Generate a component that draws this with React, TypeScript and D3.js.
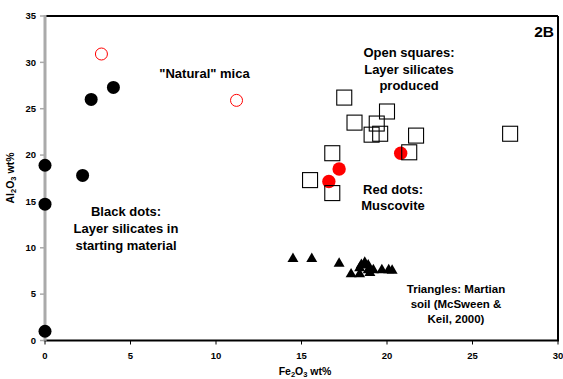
import React from "react";
import * as d3 from "d3";

// ---- data ----
const blackDotsX = [0, 0, 0, 2.2, 2.7, 4.0];
const blackDotsY = [18.9, 14.7, 1.0, 17.8, 26.0, 27.3];

const naturalMicaX = [3.3, 11.2];
const naturalMicaY = [30.9, 25.9];

const muscoviteX = [20.8, 17.2, 16.6];
const muscoviteY = [20.2, 18.5, 17.15];

const squaresX = [17.5, 18.1, 20.0, 19.4, 19.1, 19.6, 21.7, 21.3, 16.8, 15.5, 16.8, 27.2];
const squaresY = [26.2, 23.5, 24.7, 23.4, 22.2, 22.3, 22.1, 20.3, 20.2, 17.3, 15.9, 22.3];

const triX = [14.5, 15.6, 17.2, 17.9, 18.4, 18.5, 18.7, 18.9, 19.0, 19.2, 19.7, 20.1, 20.3, 18.4, 18.9];
const triY = [8.8, 8.8, 8.3, 7.15, 7.15, 8.15, 8.4, 8.1, 7.3, 7.6, 7.6, 7.6, 7.55, 7.8, 7.6];

const xTicks = [0, 5, 10, 15, 20, 25, 30];
const yTicks = [0, 5, 10, 15, 20, 25, 30, 35];

const FONT = "'Liberation Sans', Arial, Helvetica, sans-serif";

export default function App() {
  const W = 563, H = 379;
  const left = 45, right = 558, top = 16, bottom = 340.5;
  const x = d3.scaleLinear().domain([0, 30]).range([left, right]);
  const y = d3.scaleLinear().domain([0, 35]).range([bottom, top]);
  const tri = d3.symbol().type(d3.symbolTriangle).size(52)();

  return (
    <svg width={W} height={H} style={{ position: "absolute", left: 0, top: 0, background: "#fff" }} fontFamily={FONT}>
      <rect x={0} y={0} width={W} height={H} fill="#fff" />
      {/* frame */}
      <line x1={left} x2={right} y1={top} y2={top} stroke="#000" strokeWidth={2} />
      <line x1={right} x2={right} y1={top} y2={bottom} stroke="#000" strokeWidth={2} />
      <line x1={left} x2={right + 1} y1={bottom} y2={bottom} stroke="#000" strokeWidth={2} />
      <line x1={left} x2={left} y1={top - 1} y2={bottom + 1} stroke="#aaaaaa" strokeWidth={3} />

      {/* y ticks */}
      {yTicks.map((t) => (
        <g key={"y" + t}>
          <line x1={left - 5} x2={left} y1={y(t)} y2={y(t)} stroke="#aaaaaa" strokeWidth={1.5} />
          <text x={36} y={y(t)} dy="0.35em" textAnchor="end" fontSize={9.5} fontWeight="bold" fill="#000">{t}</text>
        </g>
      ))}
      {/* x ticks */}
      {xTicks.map((t) => (
        <g key={"x" + t}>
          <line x1={x(t)} x2={x(t)} y1={bottom} y2={bottom + 4} stroke="#000" strokeWidth={1} />
          <text x={x(t)} y={359} textAnchor="middle" fontSize={9.5} fontWeight="bold" fill="#000">{t}</text>
        </g>
      ))}

      {/* axis titles */}
      <text x={305} y={375} textAnchor="middle" fontSize={10.5} fontWeight="bold" fill="#000">
        Fe<tspan fontSize={7.5} dy={2}>2</tspan><tspan dy={-2}>O</tspan><tspan fontSize={7.5} dy={2}>3</tspan><tspan dy={-2}> wt%</tspan>
      </text>
      <text transform="translate(14,178) rotate(-90)" textAnchor="middle" fontSize={10.5} fontWeight="bold" fill="#000">
        Al<tspan fontSize={7.5} dy={2}>2</tspan><tspan dy={-2}>O</tspan><tspan fontSize={7.5} dy={2}>3</tspan><tspan dy={-2}> wt%</tspan>
      </text>

      {/* markers */}
      {blackDotsX.map((v, i) => (
        <circle key={"b" + i} cx={x(v)} cy={y(blackDotsY[i])} r={6.5} fill="#000" />
      ))}
      {naturalMicaX.map((v, i) => (
        <circle key={"n" + i} cx={x(v)} cy={y(naturalMicaY[i])} r={6} fill="none" stroke="#ff0000" strokeWidth={1} />
      ))}
      {muscoviteX.map((v, i) => (
        <circle key={"m" + i} cx={x(v)} cy={y(muscoviteY[i])} r={6.7} fill="#ff0000" />
      ))}
      {squaresX.map((v, i) => (
        <rect key={"s" + i} x={x(v) - 7.5} y={y(squaresY[i]) - 7.5} width={15} height={15} fill="none" stroke="#000" strokeWidth={1.1} />
      ))}
      {triX.map((v, i) => (
        <path key={"t" + i} d={tri || ""} transform={`translate(${x(v)},${y(triY[i])})`} fill="#000" />
      ))}

      {/* annotations */}
      <text x={554} y={37} textAnchor="end" fontSize={15.5} fontWeight="bold" fill="#000">2B</text>
      <text x={204.5} y={78} textAnchor="middle" fontSize={13} fontWeight="bold" fill="#000">"Natural" mica</text>
      <text textAnchor="middle" fontSize={13} fontWeight="bold" fill="#000">
        <tspan x={409} y={57}>Open squares:</tspan>
        <tspan x={409} y={74}>Layer silicates</tspan>
        <tspan x={409} y={90}>produced</tspan>
      </text>
      <text textAnchor="middle" fontSize={13} fontWeight="bold" fill="#000">
        <tspan x={393} y={194}>Red dots:</tspan>
        <tspan x={393} y={210}>Muscovite</tspan>
      </text>
      <text textAnchor="middle" fontSize={13} fontWeight="bold" fill="#000">
        <tspan x={126} y={215.5}>Black dots:</tspan>
        <tspan x={126} y={232.5}>Layer silicates in</tspan>
        <tspan x={126} y={249.5}>starting material</tspan>
      </text>
      <text textAnchor="middle" fontSize={11.5} fontWeight="bold" fill="#000">
        <tspan x={456} y={292.5}>Triangles: Martian</tspan>
        <tspan x={456} y={307.5}>soil (McSween &amp;</tspan>
        <tspan x={456} y={322.5}>Keil, 2000)</tspan>
      </text>
    </svg>
  );
}
